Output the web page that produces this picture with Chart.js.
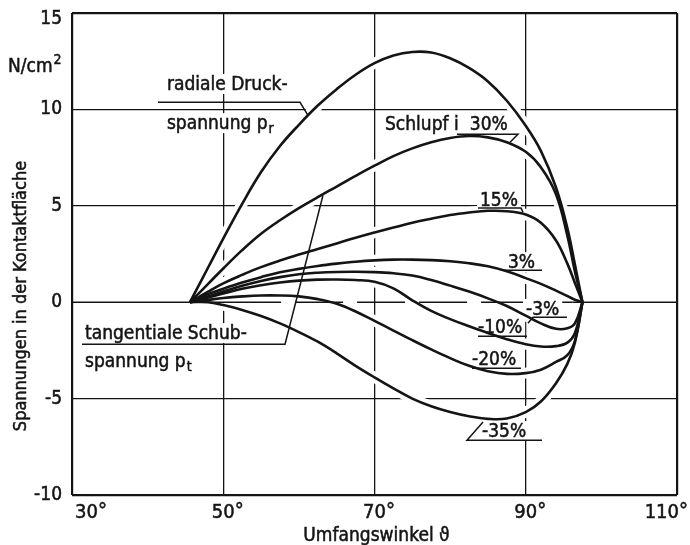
<!DOCTYPE html>
<html>
<head>
<meta charset="utf-8">
<title>Spannungen in der Kontaktfläche</title>
<script src="https://cdn.jsdelivr.net/npm/chart.js@4.4.1/dist/chart.umd.min.js"></script>
<style>
  html, body { margin: 0; padding: 0; background: #fff; }
  canvas { display: block; }
</style>
</head>
<body>
<canvas id="chart" width="690" height="545"></canvas>
<script>
// Umfangswinkel (degrees) shared by all curves
const angle = [45.6, 48, 50, 52.5, 55, 57.5, 60, 62.5, 65, 67.5, 70, 72.5, 75, 77.5, 80, 82.5, 85, 87.5, 90, 92, 94, 95.5, 96.5, 97.5];

// radiale Druckspannung p_r (N/cm²)
const radialPressure = [0, 1.8, 3.3, 5.1, 6.75, 8.1, 9.2, 10.2, 11.05, 11.8, 12.4, 12.8, 12.98, 12.95, 12.65, 12.15, 11.45, 10.45, 9.15, 7.85, 5.95, 3.85, 1.95, 0];

// tangentiale Schubspannung p_t (N/cm²) for each Schlupf i
const shearSlip30 = [0, 0.95, 1.75, 2.7, 3.55, 4.25, 4.88, 5.45, 6.0, 6.55, 7.08, 7.58, 7.98, 8.3, 8.52, 8.62, 8.55, 8.3, 7.8, 7.0, 5.6, 3.45, 1.6, 0];
const shearSlip15 = [0, 0.55, 0.98, 1.42, 1.82, 2.16, 2.47, 2.76, 3.05, 3.34, 3.61, 3.87, 4.12, 4.33, 4.52, 4.65, 4.74, 4.72, 4.55, 4.12, 3.2, 2.0, 1.0, 0];
const shearSlip3 = [0, 0.42, 0.7, 1.02, 1.3, 1.55, 1.73, 1.88, 2.0, 2.1, 2.17, 2.21, 2.21, 2.18, 2.12, 2.02, 1.86, 1.6, 1.25, 0.95, 0.6, 0.32, 0.13, 0];
const shearSlipM3 = [0, 0.3, 0.55, 0.85, 1.1, 1.3, 1.45, 1.53, 1.57, 1.58, 1.56, 1.5, 1.38, 1.15, 0.86, 0.55, 0.2, -0.2, -0.7, -1.1, -1.38, -1.35, -1.1, 0];
const shearSlipM10 = [0, 0.25, 0.45, 0.7, 0.88, 1.02, 1.12, 1.17, 1.18, 1.15, 1.06, 0.72, 0.1, -0.45, -0.88, -1.25, -1.6, -1.92, -2.18, -2.3, -2.28, -2.1, -1.6, 0];
const shearSlipM20 = [0, 0.12, 0.22, 0.3, 0.35, 0.35, 0.3, 0.16, -0.08, -0.48, -0.97, -1.47, -1.97, -2.45, -2.9, -3.3, -3.58, -3.72, -3.68, -3.5, -3.1, -2.75, -2.0, 0];
const shearSlipM35 = [0, 0.0, -0.15, -0.4, -0.72, -1.1, -1.55, -2.05, -2.65, -3.3, -3.9, -4.47, -5.0, -5.4, -5.7, -5.92, -6.05, -6.03, -5.7, -5.15, -4.2, -3.2, -2.1, 0];

// axis ticks
const xTicks = [30, 50, 70, 90, 110];
const yTicks = [15, 10, 5, 0, -5, -10];
const yTickLabels = ['15', '10', '5', '0', '-5', '-10'];

// curve captions (anchor in data units: angle, stress)
const captions = [
  { x: 42.55, y: 11.0,  parts: [['radiale Druck-']] },
  { x: 42.55, y: 8.97,  parts: [['spannung p'], ['r', 'sub']] },
  { x: 31.72, y: -1.92, parts: [['tangentiale Schub-']] },
  { x: 31.72, y: -3.37, parts: [['spannung p'], ['t', 'sub']] },
  { x: 71.39, y: 8.92,  parts: [['Schlupf i']] },
  { x: 82.6,  y: 8.92,  parts: [['30%']] },
  { x: 83.95, y: 4.98,  parts: [['15%']] },
  { x: 87.65, y: 1.76,  parts: [['3%']] },
  { x: 90.03, y: -0.67, parts: [['-3%']] },
  { x: 83.69, y: -1.61, parts: [['-10%']] },
  { x: 82.89, y: -3.27, parts: [['-20%']] },
  { x: 84.22, y: -7.0,  parts: [['-35%']] }
];

// underlines and leader lines of the captions (data units)
const leaders = [
  [[41.37, 10.37], [60.15, 10.37], [61.25, 9.66]],
  [[31.32, -2.18], [58.17, -2.18], [63.19, 5.55]],
  [[80.91, 8.71], [88.97, 8.71], [87.92, 8.30]],
  [[83.69, 4.88], [89.37, 4.88], [89.63, 4.67]],
  [[86.99, 1.66], [92.15, 1.66]],
  [[90.29, -1.09], [90.95, -0.78], [95.45, -0.78]],
  [[83.69, -1.76], [90.17, -1.76]],
  [[82.89, -3.42], [89.37, -3.42]],
  [[84.35, -6.22], [82.23, -7.16], [92.15, -7.16]]
];

const FONT = "'DejaVu Sans Condensed', 'DejaVu Sans', 'Liberation Sans Narrow', sans-serif";
const INK = '#141414';

function series(values) {
  return angle.map((a, i) => ({ x: a, y: values[i] }));
}

function curve(values) {
  return {
    data: series(values),
    borderColor: INK,
    borderWidth: 2.6,
    pointRadius: 0,
    fill: false,
    tension: 0.4
  };
}

// text with a hairline outline, for the heavier pen weight of the lettering
function ink(ctx, text, x, y) {
  ctx.fillText(text, x, y);
  ctx.strokeText(text, x, y);
}

function drawParts(ctx, parts, x, y, size) {
  let cx = x;
  for (const [text, kind] of parts) {
    if (kind === 'sub') {
      ctx.font = Math.round(size * 0.72) + 'px ' + FONT;
      ink(ctx, text, cx + 1, y + size * 0.22);
    } else if (kind === 'sup') {
      ctx.font = Math.round(size * 0.72) + 'px ' + FONT;
      ink(ctx, text, cx + 1, y - size * 0.42);
    } else {
      ctx.font = size + 'px ' + FONT;
      ink(ctx, text, cx, y);
    }
    cx += ctx.measureText(text).width + (kind ? 1 : 0);
  }
  return cx - x;
}

function measureParts(ctx, parts, size) {
  let w = 0;
  for (const [text, kind] of parts) {
    ctx.font = (kind ? Math.round(size * 0.72) : size) + 'px ' + FONT;
    w += ctx.measureText(text).width + (kind ? 1 : 0);
  }
  return w;
}

const CAPTION_SIZE = 19;

const draftingPlugin = {
  id: 'drafting',
  beforeDatasetsDraw(chart) {
    const { ctx, scales: { x, y } } = chart;
    ctx.save();
    // white halos interrupt the grid wherever a curve crosses it
    ctx.strokeStyle = '#fff';
    ctx.lineWidth = 11;
    ctx.lineJoin = 'round';
    ctx.lineCap = 'butt';
    chart.data.datasets.forEach((ds, di) => {
      const pts = chart.getDatasetMeta(di).data;
      ctx.beginPath();
      pts.forEach((p, i) => {
        if (i === 0) { ctx.moveTo(p.x, p.y); return; }
        const q = pts[i - 1];
        if (q.cp2x !== undefined && p.cp1x !== undefined) {
          ctx.bezierCurveTo(q.cp2x, q.cp2y, p.cp1x, p.cp1y, p.x, p.y);
        } else {
          ctx.lineTo(p.x, p.y);
        }
      });
      ctx.stroke();
    });

    // zero line: solid at both ends, dashed in the contact zone
    const y0 = y.getPixelForValue(0);
    ctx.strokeStyle = INK;
    ctx.lineWidth = 1.6;
    ctx.beginPath();
    ctx.moveTo(x.getPixelForValue(30), y0);
    ctx.lineTo(x.getPixelForValue(51.3), y0);
    ctx.moveTo(x.getPixelForValue(96.2), y0);
    ctx.lineTo(x.getPixelForValue(110), y0);
    ctx.stroke();
    ctx.setLineDash([48, 14]);
    ctx.beginPath();
    ctx.moveTo(x.getPixelForValue(51.3), y0);
    ctx.lineTo(x.getPixelForValue(96.2), y0);
    ctx.stroke();
    ctx.setLineDash([]);

    // white backing behind caption text
    ctx.fillStyle = '#fff';
    for (const c of captions) {
      const px = x.getPixelForValue(c.x);
      const py = y.getPixelForValue(c.y);
      const w = measureParts(ctx, c.parts, CAPTION_SIZE);
      ctx.fillRect(px - 3, py - CAPTION_SIZE * 0.85, w + 6, CAPTION_SIZE * 1.05);
    }
    ctx.restore();
  },
  afterDatasetsDraw(chart) {
    const { ctx, scales: { x, y }, chartArea } = chart;
    ctx.save();
    ctx.fillStyle = INK;
    ctx.strokeStyle = INK;
    ctx.lineWidth = 0.5;
    ctx.textBaseline = 'alphabetic';
    ctx.textAlign = 'left';

    // captions
    for (const c of captions) {
      drawParts(ctx, c.parts, x.getPixelForValue(c.x), y.getPixelForValue(c.y), CAPTION_SIZE);
    }

    // y tick labels
    ctx.font = '19px ' + FONT;
    ctx.textAlign = 'right';
    ctx.textBaseline = 'middle';
    yTicks.forEach((v, i) => {
      let py = y.getPixelForValue(v);
      if (v === 15) py += 6;
      ink(ctx, yTickLabels[i], chartArea.left - 10, py);
    });

    // x tick labels: number centred on its line, degree sign after it
    ctx.textBaseline = 'alphabetic';
    ctx.textAlign = 'left';
    const xBase = chartArea.bottom + 23;
    xTicks.forEach((v) => {
      ctx.font = '20px ' + FONT;
      const num = String(v);
      const wn = ctx.measureText(num).width;
      const wd = ctx.measureText('°').width;
      let left = x.getPixelForValue(v) - wn / 2;
      left = Math.max(left, chartArea.left + 3);
      left = Math.min(left, chart.width - 2 - wn - wd);
      ink(ctx, num, left, xBase);
      ink(ctx, '°', left + wn, xBase - 1);
    });

    // unit
    ctx.textAlign = 'left';
    drawParts(ctx, [['N/cm'], ['2', 'sup']], 8, 72, 19);

    // axis titles
    ctx.font = '19px ' + FONT;
    ctx.textAlign = 'center';
    ink(ctx, 'Umfangswinkel \u03D1', (chartArea.left + chartArea.right) / 2 + 2, chartArea.bottom + 46);
    ctx.font = '18px ' + FONT;
    ctx.save();
    ctx.translate(26, 296);
    ctx.rotate(-Math.PI / 2);
    ink(ctx, 'Spannungen in der Kontaktfläche', 0, 0);
    ctx.restore();

    // underlines and leaders
    ctx.lineWidth = 1.5;
    ctx.lineJoin = 'miter';
    for (const line of leaders) {
      ctx.beginPath();
      line.forEach(([a, b], i) => {
        const px = x.getPixelForValue(a), py = y.getPixelForValue(b);
        if (i === 0) ctx.moveTo(px, py); else ctx.lineTo(px, py);
      });
      ctx.stroke();
    }

    ctx.restore();
  }
};

const edge = (v, a, b) => (v === a || v === b);

new Chart(document.getElementById('chart'), {
  type: 'line',
  data: {
    datasets: [
      curve(radialPressure),
      curve(shearSlip30),
      curve(shearSlip15),
      curve(shearSlip3),
      curve(shearSlipM3),
      curve(shearSlipM10),
      curve(shearSlipM20),
      curve(shearSlipM35)
    ]
  },
  options: {
    responsive: false,
    devicePixelRatio: 1,
    animation: false,
    events: [],
    layout: { padding: { left: 72, right: 13, top: 13, bottom: 50 } },
    plugins: { legend: { display: false }, tooltip: { enabled: false } },
    scales: {
      x: {
        type: 'linear',
        min: 30,
        max: 110,
        ticks: { stepSize: 20, display: false },
        grid: {
          drawTicks: false,
          color: INK,
          lineWidth: (c) => edge(c.tick && c.tick.value, 30, 110) ? 2.2 : 1.3
        },
        border: { display: false }
      },
      y: {
        type: 'linear',
        min: -10,
        max: 15,
        ticks: { stepSize: 5, display: false },
        grid: {
          drawTicks: false,
          color: (c) => (c.tick && c.tick.value === 0) ? 'rgba(0,0,0,0)' : INK,
          lineWidth: (c) => edge(c.tick && c.tick.value, -10, 15) ? 2.2 : 1.3
        },
        border: { display: false }
      }
    }
  },
  plugins: [draftingPlugin]
});
</script>
</body>
</html>
